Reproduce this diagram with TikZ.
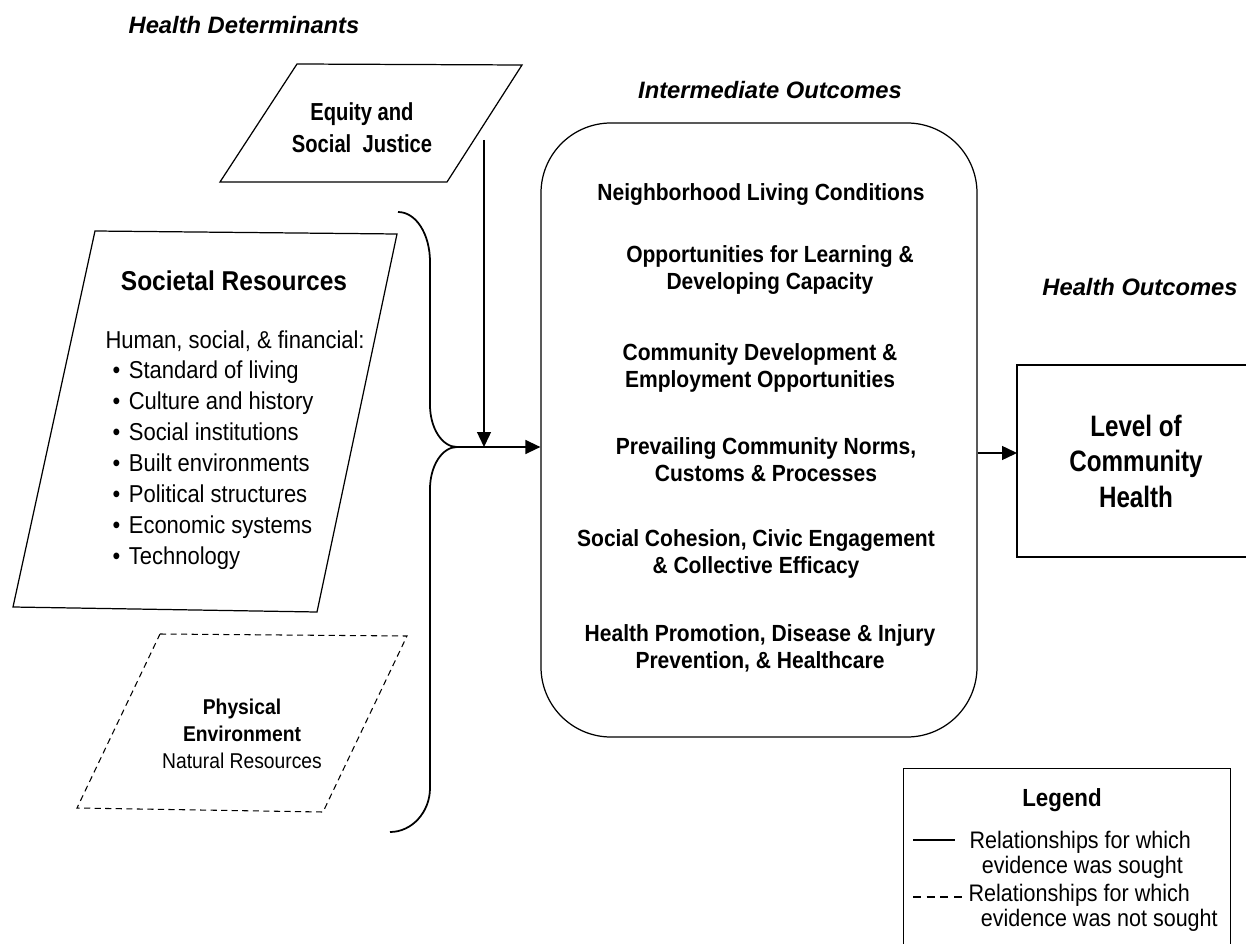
\documentclass[tikz,border=0pt]{standalone}
\usepackage{fontspec}
\setmainfont{Liberation Sans}[FakeStretch=0.9]
\newfontfamily\headfont{Liberation Sans}
\newfontfamily\tallfont{Liberation Sans}[FakeStretch=0.82]
\usepackage{tikz}
\usetikzlibrary{arrows.meta, positioning, calc}

\tikzset{
  arr/.style={-{Triangle[length=3mm, width=2.8mm]}, line width=0.8pt},
  heading/.style={font=\headfont\fontsize{13.5}{16}\selectfont\bfseries\itshape},
  outcome/.style={align=center, font=\fontsize{13.3}{15.4}\selectfont\bfseries},
  legendtext/.style={anchor=west, inner sep=0pt, align=left, font=\fontsize{13.6}{14.5}\selectfont},
}

\begin{document}
\begin{tikzpicture}[x=0.2mm, y=-0.2mm, line width=0.7pt]
        \useasboundingbox (0,0) rectangle (1246,944);
        \clip (0,0) rectangle (1246,944);

        % Column headings
        \node[heading] (hdet) at (244,25) {Health Determinants};
        \node[heading] (hint) at (770,90) {Intermediate Outcomes};
        \node[heading] (hout) at (1140,287) {Health Outcomes};

        % Equity and social justice
        \draw (297,64) -- (522,65) -- (447,182) -- (220,182) -- cycle;
        \node[align=center, font=\tallfont\fontsize{14}{18.2}\selectfont\bfseries] (equity) at (362,128) {Equity and\\Social\ \ Justice};

        % Societal resources
        \draw (95,231) -- (397,234) -- (317,612) -- (13,607) -- cycle;
        \node[font=\fontsize{15.5}{16}\selectfont\bfseries] (soctitle) at (234,281) {Societal Resources};
        \node[anchor=west, inner sep=0pt, align=left, font=\fontsize{13.9}{17.6}\selectfont] (soclist) at (105,450) {Human, social, \& financial:\\
          \hspace*{4pt}\textbullet\hspace{0.35em}Standard of living\\
          \hspace*{4pt}\textbullet\hspace{0.35em}Culture and history\\
          \hspace*{4pt}\textbullet\hspace{0.35em}Social institutions\\
          \hspace*{4pt}\textbullet\hspace{0.35em}Built environments\\
          \hspace*{4pt}\textbullet\hspace{0.35em}Political structures\\
          \hspace*{4pt}\textbullet\hspace{0.35em}Economic systems\\
          \hspace*{4pt}\textbullet\hspace{0.35em}Technology};

        % Physical environment (dashed)
        \draw[dash pattern=on 3.5pt off 2.5pt, line width=0.6pt] (160,634) -- (407,636) -- (323,812) -- (77,808) -- cycle;
        \node[align=center, font=\fontsize{12.2}{15.4}\selectfont] (phys) at (242,734) {\textbf{Physical}\\\textbf{Environment}\\Natural Resources};

        % Brace collecting the determinants
        \coordinate (tip) at (457,447);
        \draw[line width=1pt] (398,212) .. controls (416,212) and (430,234) .. (430,262) -- (430,405)
          .. controls (430,428) and (442,447) .. (tip)
          .. controls (442,447) and (430,466) .. (430,489) -- (430,788)
          .. controls (430,812) and (412,832) .. (390,832);

        % Intermediate outcomes
        \node[draw, rounded corners=1.4cm, minimum width=8.72cm, minimum height=12.28cm] (inter) at (759,430) {};
        \node[outcome] (neigh) at (761,195) {Neighborhood Living Conditions};
        \node[outcome] (learn) at (770,270) {Opportunities for Learning \&\\Developing Capacity};
        \node[outcome] (devel) at (760,368) {Community Development \&\\Employment Opportunities};
        \node[outcome] (norms) at (766,460) {Prevailing Community Norms,\\Customs \& Processes};
        \node[outcome] (cohes) at (756,554) {Social Cohesion, Civic Engagement\\\& Collective Efficacy};
        \node[outcome] (promo) at (760,648) {Health Promotion, Disease \& Injury\\Prevention, \& Healthcare};

        % Health outcome
        \node[draw, minimum width=4.96cm, minimum height=3.84cm] (level) at (1141,461) {};
        \node[align=center, font=\tallfont\fontsize{16.8}{20.2}\selectfont\bfseries] (leveltxt) at (1136,461) {Level of\\Community\\Health};

        % Connections
        \coordinate (eqout) at (484,140);
        \coordinate (join) at (484,447);
        \coordinate (lvlin) at (1017,453);
        \draw[arr] (eqout) -- (join);
        \draw[arr] (tip) -- (tip -| inter.west);
        \draw[arr] (inter.east |- lvlin) -- (lvlin);

        % Legend
        \node[draw, anchor=north west, minimum width=6.54cm, minimum height=4cm] (legend) at (903,768) {};
        \node[font=\fontsize{14.1}{14.5}\selectfont\bfseries] (legtitle) at (1062,800) {Legend};
        \coordinate (solidA) at (913,840);
        \coordinate (solidB) at (955,840);
        \coordinate (dashA) at (913,897);
        \coordinate (dashB) at (966,897);
        \draw[line width=0.6pt] (solidA) -- (solidB);
        \draw[line width=0.6pt, dash pattern=on 4.5pt off 3.3pt] (dashA) -- (dashB);
        \node[legendtext] (legsolid) at (969,855) {Relationships for which\\\hspace*{7pt}evidence was sought};
        \node[legendtext] (legdash) at (968,908) {Relationships for which\\\hspace*{7pt}evidence was not sought};
\end{tikzpicture}
\end{document}
